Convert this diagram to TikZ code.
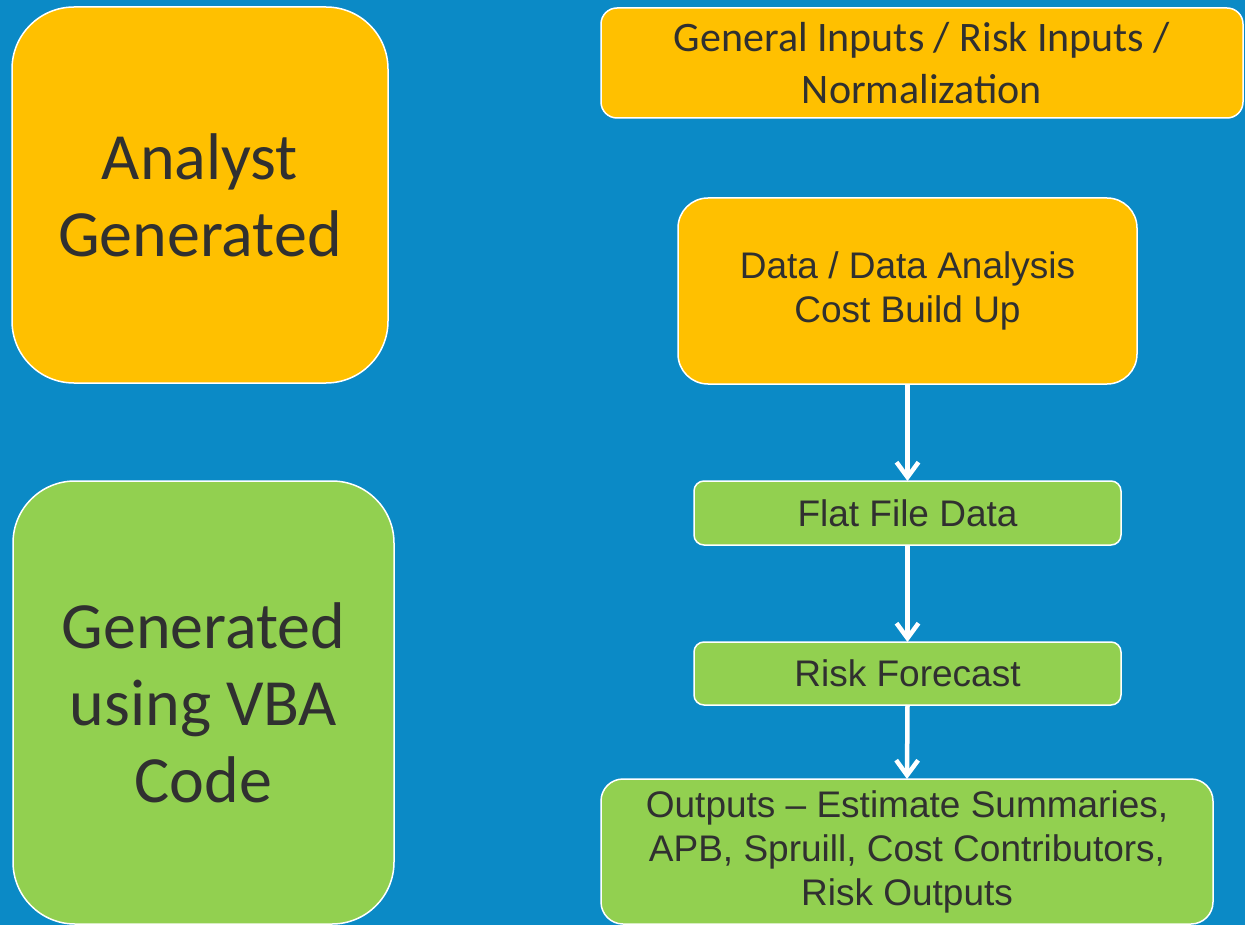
\documentclass[tikz,border=0pt]{standalone}
\usepackage{fontspec}
\setmainfont{Liberation Sans}
\newfontfamily\slidefont{Carlito}
\usetikzlibrary{arrows.meta}

\definecolor{slide-blue}{HTML}{0B8AC6}
\definecolor{slide-orange}{HTML}{FFC000}
\definecolor{slide-green}{HTML}{92D050}
\definecolor{slide-text}{HTML}{303030}

\tikzstyle{slide-box}=[draw=white, line width=1.5pt, text=slide-text, align=center, inner sep=0pt, outer sep=0pt]
\tikzstyle{side-box}=[slide-box, rounded corners=62pt, font=\slidefont\fontsize{66}{77}\selectfont]
\tikzstyle{flow-box}=[slide-box, font=\fontsize{37}{44}\selectfont]
\tikzstyle{flow-arrow}=[draw=white, line width=4.5pt, -{Straight Barb[length=15pt, width=22pt]}]

\begin{document}
\begin{tikzpicture}[x=1pt, y=-1pt]
      \useasboundingbox (0, 0) rectangle (1245, 925);
      \fill[slide-blue] (0, 0) rectangle (1245, 925);

      \node (analyst) at (200, 195)
            [side-box, fill=slide-orange, minimum width=376pt, minimum height=376pt] {Analyst\\Generated};
      \node (vba) at (203.5, 702.5)
            [side-box, fill=slide-green, minimum width=381pt, minimum height=443pt] {Generated\\using VBA\\Code};

      \node (inputs) at (922, 63)
            [slide-box, fill=slide-orange, rounded corners=16pt, minimum width=642pt, minimum height=110pt,
             font=\slidefont\fontsize{42}{52}\selectfont] {General Inputs / Risk Inputs /\\Normalization};
      \node (analysis) at (907.5, 291)
            [flow-box, fill=slide-orange, rounded corners=30pt, minimum width=459pt, minimum height=186pt] {Data / Data Analysis\\Cost Build Up};
      \node (flatfile) at (907.5, 513)
            [flow-box, fill=slide-green, rounded corners=10pt, minimum width=427pt, minimum height=64pt] {Flat File Data};
      \node (forecast) at (907.5, 673.5)
            [flow-box, fill=slide-green, rounded corners=10pt, minimum width=427pt, minimum height=63pt] {Risk Forecast};
      \node (outputs) at (907, 851.5)
            [flow-box, fill=slide-green, rounded corners=22pt, minimum width=612pt, minimum height=145pt] {Outputs -- Estimate Summaries,\\APB, Spruill, Cost Contributors,\\Risk Outputs};

      \draw[flow-arrow] (analysis.south) -- (flatfile.north);
      \draw[flow-arrow] (flatfile.south) -- (forecast.north);
      \draw[flow-arrow] (forecast.south) -- (outputs.north);
    \end{tikzpicture}
\end{document}
